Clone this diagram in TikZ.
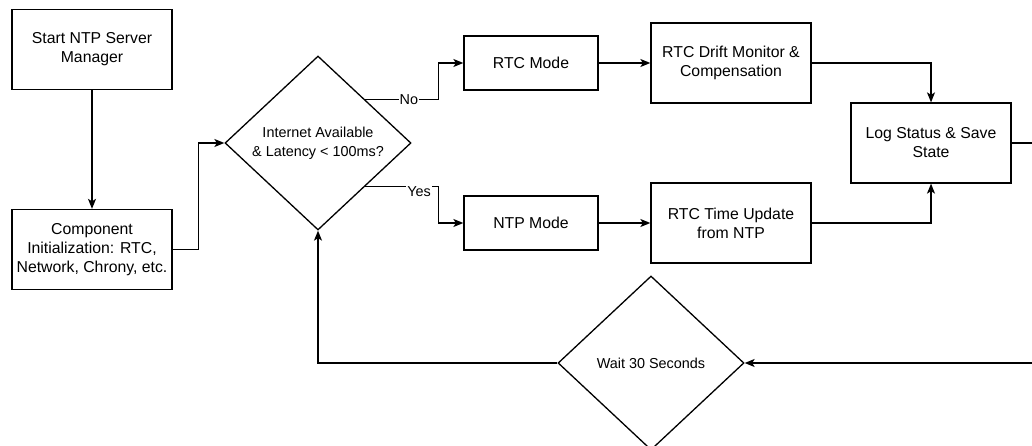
\documentclass[tikz,border=0pt]{standalone}
\usepackage{fontspec}
\setmainfont{Liberation Sans}
\usetikzlibrary{shapes.geometric,arrows.meta,calc}

\begin{document}
\begin{tikzpicture}[x=1pt,y=-1pt,
  box/.style={draw=black, line width=1.3pt, rectangle, align=center, inner sep=0pt,
    minimum width=160pt, minimum height=80pt, font=\fontsize{15.8}{19}\selectfont},
  modebox/.style={box, minimum width=134pt, minimum height=54pt},
  decision/.style={draw=black, line width=1.3pt, diamond, align=center, inner sep=0pt,
    minimum width=186pt, minimum height=174pt, font=\fontsize{14.4}{19}\selectfont},
  arr/.style={line width=1.3pt, -{Stealth[length=10pt,width=8pt,inset=2.5pt]}},
  lbl/.style={fill=white, inner sep=1pt, font=\fontsize{14.4}{17}\selectfont}]

\useasboundingbox (0,0) rectangle (1032,446);
\clip (0,0) rectangle (1032,446);

% process steps
\node[box] (start) at (92,49.5) {Start NTP Server\\Manager};
\node[box] (init) at (92,249.5) {Component\\Initialization: RTC,\\Network, Chrony, etc.};
\node[decision] (check) at (318,143) {Internet Available\\\& Latency < 100ms?};
\node[modebox] (rtc) at (531,63) {RTC Mode};
\node[modebox] (ntp) at (531,223) {NTP Mode};
\node[box] (drift) at (731,63) {RTC Drift Monitor \&\\Compensation};
\node[box] (update) at (731,223) {RTC Time Update\\from NTP};
\node[box] (log) at (931,143) {Log Status \& Save\\State};
\node[decision] (wait) at (651,363) {Wait 30 Seconds};

% exit points on the decision's right-hand edges
\coordinate (noexit) at ($(check.north)!0.5!(check.east)$);
\coordinate (yesexit) at ($(check.east)!0.5!(check.south)$);

% connectors
\draw[arr] (start) -- (init);
\draw[arr] (init.east) -- ++(26,0) |- (check.west);
\draw[arr] (noexit) -- node[lbl, pos=0.6] {No} ++(73.5,0) |- (rtc.west);
\draw[arr] (yesexit) -- ++(73.5,0) |- (ntp.west);
\node[lbl] (yeslbl) at (419,192) {Yes};
\draw[arr] (rtc) -- (drift);
\draw[arr] (ntp) -- (update);
\draw[arr] (drift.east) -| (log.north);
\draw[arr] (update.east) -| (log.south);
\draw[arr] (log.east) -- ++(60,0) |- (wait.east);
\draw[arr] (wait.west) -| (check.south);
\end{tikzpicture}
\end{document}
